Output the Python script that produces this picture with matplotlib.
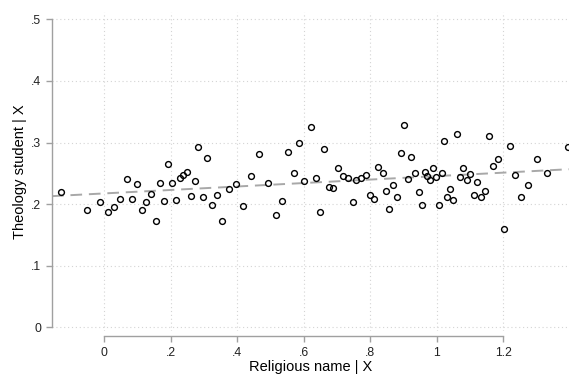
import numpy as np
import matplotlib
matplotlib.use("Agg")
import matplotlib.pyplot as plt

plt.rcParams['font.family'] = ['Liberation Sans', 'DejaVu Sans']

# binned residualised scatter: religious name vs theology student
religious_name = [
    -0.130, -0.051, -0.014, 0.012, 0.030, 0.048, 0.067, 0.083, 0.099, 0.113,
    0.126, 0.140, 0.155, 0.168, 0.181, 0.193, 0.205, 0.217, 0.229, 0.238,
    0.250, 0.261, 0.273, 0.283, 0.297, 0.310, 0.324, 0.338, 0.355, 0.374,
    0.396, 0.417, 0.441, 0.466, 0.492, 0.515, 0.535, 0.553, 0.570, 0.585,
    0.601, 0.620, 0.636, 0.648, 0.662, 0.675, 0.688, 0.703, 0.719, 0.734,
    0.747, 0.758, 0.773, 0.787, 0.798, 0.811, 0.824, 0.837, 0.848, 0.856,
    0.869, 0.880, 0.891, 0.902, 0.913, 0.923, 0.934, 0.946, 0.955, 0.964,
    0.971, 0.980, 0.988, 0.997, 1.006, 1.015, 1.022, 1.031, 1.040, 1.049,
    1.059, 1.068, 1.078, 1.089, 1.099, 1.110, 1.120, 1.131, 1.145, 1.157,
    1.170, 1.185, 1.201, 1.219, 1.235, 1.253, 1.275, 1.300, 1.331, 1.394,
]
theology_student = [
    0.220, 0.190, 0.203, 0.187, 0.195, 0.208, 0.241, 0.208, 0.232, 0.191,
    0.203, 0.216, 0.173, 0.235, 0.205, 0.265, 0.234, 0.207, 0.243, 0.248,
    0.253, 0.213, 0.238, 0.293, 0.212, 0.275, 0.199, 0.215, 0.173, 0.224,
    0.233, 0.197, 0.245, 0.281, 0.235, 0.182, 0.205, 0.284, 0.250, 0.300,
    0.238, 0.326, 0.242, 0.187, 0.290, 0.228, 0.227, 0.258, 0.245, 0.242,
    0.203, 0.240, 0.242, 0.248, 0.215, 0.208, 0.261, 0.250, 0.222, 0.192,
    0.231, 0.212, 0.283, 0.329, 0.241, 0.276, 0.250, 0.220, 0.198, 0.253,
    0.245, 0.239, 0.259, 0.244, 0.199, 0.250, 0.302, 0.211, 0.224, 0.207,
    0.314, 0.244, 0.259, 0.239, 0.249, 0.215, 0.236, 0.211, 0.221, 0.311,
    0.262, 0.274, 0.160, 0.295, 0.248, 0.212, 0.231, 0.273, 0.251, 0.293,
]

x_ticks = [0, 0.2, 0.4, 0.6, 0.8, 1.0, 1.2]
x_tick_labels = ["0", ".2", ".4", ".6", ".8", "1", "1.2"]
y_ticks = [0, 0.1, 0.2, 0.3, 0.4, 0.5]
y_tick_labels = ["0", ".1", ".2", ".3", ".4", ".5"]

x = np.array(religious_name)
y = np.array(theology_student)
slope, intercept = np.polyfit(x, y, 1)

fig = plt.figure(figsize=(5.69, 3.74), dpi=100)
ax = fig.add_axes([52 / 569, 43 / 374, 517 / 569, 319 / 374])

xlim = (-0.157, 1.397)
ax.set_xlim(*xlim)
ax.set_ylim(-0.006, 0.512)

ax.grid(True, color="#d4d4d4", linestyle=(0, (1, 2.5)), linewidth=0.8)
ax.set_axisbelow(True)

xs = np.array(xlim)
ax.plot(xs, intercept + slope * xs, color="#a8a8a8", linewidth=1.4,
        linestyle=(0, (6, 3.5)), zorder=2)
ax.plot(x, y, linestyle="none", marker="o", ms=4.2, mfc="none",
        mec="black", mew=1.0, zorder=3, clip_on=False)

for side in ("top", "right"):
    ax.spines[side].set_visible(False)
ax.spines["left"].set_bounds(0, 0.5)
ax.spines["bottom"].set_bounds(0, 1.2)
ax.spines["bottom"].set_position(("outward", 3.5))
for side in ("left", "bottom"):
    ax.spines[side].set_color("#a0a0a0")
    ax.spines[side].set_linewidth(1.0)

ax.set_xticks(x_ticks)
ax.set_xticklabels(x_tick_labels)
ax.set_yticks(y_ticks)
ax.set_yticklabels(y_tick_labels)
ax.tick_params(axis="both", color="#a0a0a0", length=4, width=1.0,
               labelsize=8.8, labelcolor="#222222", pad=4)

ax.set_xlabel("Religious name | X", fontsize=10.5, labelpad=1)
ax.set_ylabel("Theology student | X", fontsize=10.5, labelpad=3)

fig.savefig("out.png", dpi=100)
